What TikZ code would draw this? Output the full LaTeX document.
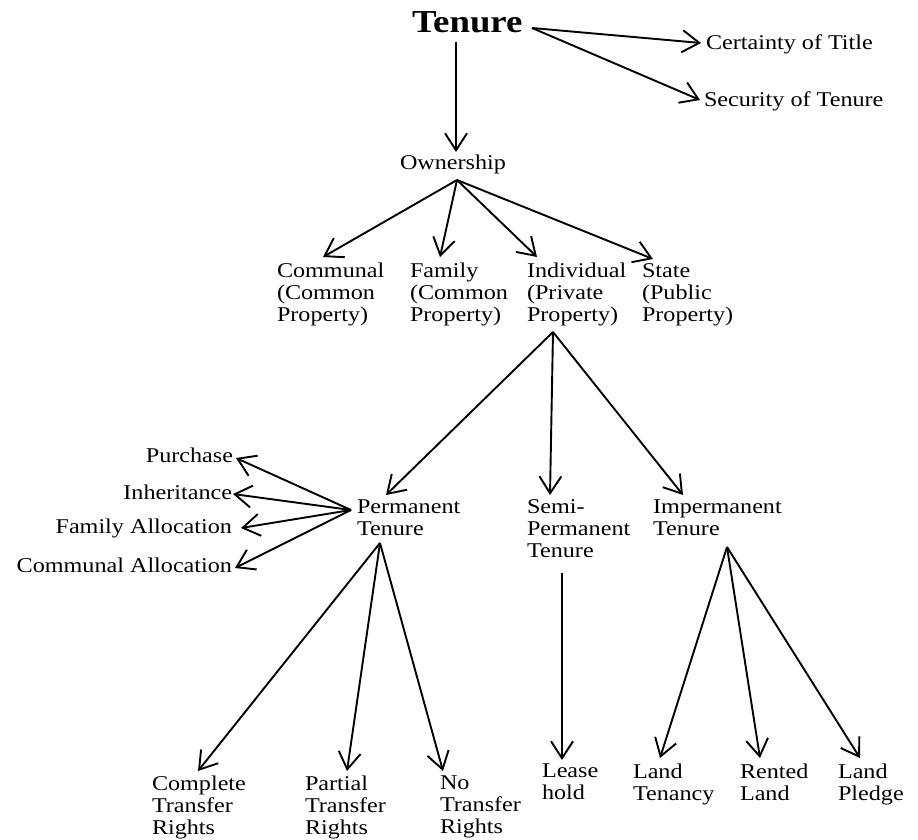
\documentclass[tikz,border=0pt]{standalone}
\usepackage{fontspec}
\setmainfont{Liberation Serif}[FakeStretch=1.15]
\usetikzlibrary{arrows.meta}
\begin{document}
\begin{tikzpicture}[x=1pt,y=-1pt,
  lbl/.style={inner sep=0pt, outer sep=0pt, align=left, anchor=north west,
              font=\fontsize{21}{22}\selectfont},
  rlbl/.style={inner sep=0pt, outer sep=0pt, anchor=east,
              font=\fontsize{21}{22}\selectfont},
  arr/.style={line width=1.9pt, -{Straight Barb[length=17pt,width=22pt,line width=1.9pt]}}]
\useasboundingbox (0,0) rectangle (918,840);

% ---- nodes
\node[lbl, font=\fontsize{32}{34}\selectfont\bfseries] (tenure) at (412,12) {Tenure};
\node[lbl] (cert)  at (706,35) {Certainty of Title};
\node[lbl] (secur) at (704,92) {Security of Tenure};
\node[lbl] (own)   at (400,155) {Ownership};

\node[lbl] (comm)  at (277,263) {Communal\\(Common\\Property)};
\node[lbl] (fam)   at (410,263) {Family\\(Common\\Property)};
\node[lbl] (indiv) at (527,263) {Individual\\(Private\\Property)};
\node[lbl] (state) at (642,264) {State\\(Public\\Property)};

\node[lbl] (perm)   at (357,500) {Permanent\\Tenure};
\node[lbl] (semi)   at (527,500) {Semi-\\Permanent\\Tenure};
\node[lbl] (imperm) at (653,500) {Impermanent\\Tenure};

\node[rlbl] (purch)  at (233,455) {Purchase};
\node[rlbl] (inher)  at (232,492) {Inheritance};
\node[rlbl] (famall) at (232,528) {Family Allocation};
\node[rlbl] (comall) at (232,565) {Communal Allocation};

\node[lbl] (compl)   at (152,776) {Complete\\Transfer\\Rights};
\node[lbl] (partial) at (305,776) {Partial\\Transfer\\Rights};
\node[lbl] (notr)    at (440,776) {No\\Transfer\\Rights};

\node[lbl] (lease)   at (542,764) {Lease\\hold};
\node[lbl] (tenancy) at (633,764) {Land\\Tenancy};
\node[lbl] (rented)  at (740,764) {Rented\\Land};
\node[lbl] (pledge)  at (838,764) {Land\\Pledge};

% ---- connector end points
\coordinate (tenR)   at (532,28);
\coordinate (tenB)   at (456,42);
\coordinate (ownB)   at (457,180);
\coordinate (indB)   at (553,332);
\coordinate (permL)  at (351,510);
\coordinate (permB)  at (380,543);
\coordinate (semiB)  at (562,573);
\coordinate (impB)   at (727,547);

% ---- connectors (yshift is in page direction: positive = up)
\draw[arr] (tenR) -- ([xshift=-5pt]cert.west |- 0,43);
\draw[arr] (tenR) -- ([xshift=-4pt]secur.west |- 0,100);
\draw[arr] (tenB) -- ([yshift=3pt]own.north -| tenB);

\draw[arr] (ownB) -- ([yshift=6pt]comm.north -| 323,0);
\draw[arr] (ownB) -- ([yshift=6pt]fam.north -| 440,0);
\draw[arr] (ownB) -- ([yshift=6pt]indiv.north -| 537,0);
\draw[arr] (ownB) -- ([yshift=5pt]state.north -| 653,0);

\draw[arr] (indB) -- ([yshift=5pt]perm.north -| 386,0);
\draw[arr] (indB) -- ([yshift=5pt]semi.north -| 550,0);
\draw[arr] (indB) -- ([yshift=5pt]imperm.north -| 683,0);

\draw[arr] (permL) -- ([xshift=3pt,yshift=-3pt]purch.east);
\draw[arr] (permL) -- ([xshift=1pt,yshift=-2pt]inher.east);
\draw[arr] (permL) -- ([xshift=9pt]famall.east);
\draw[arr] (permL) -- ([xshift=3pt,yshift=-3pt]comall.east);

\draw[arr] (permB) -- ([yshift=5pt]compl.north -| 198,0);
\draw[arr] (permB) -- ([yshift=5pt]partial.north -| 347,0);
\draw[arr] (permB) -- ([yshift=5pt]notr.north -| 443,0);

\draw[arr] (semiB) -- ([yshift=4pt]lease.north -| semiB);

\draw[arr] (impB) -- ([yshift=6pt]tenancy.north -| 660,0);
\draw[arr] (impB) -- ([yshift=6pt]rented.north -| 760,0);
\draw[arr] (impB) -- ([yshift=6pt]pledge.north -| 860,0);
\end{tikzpicture}
\end{document}
